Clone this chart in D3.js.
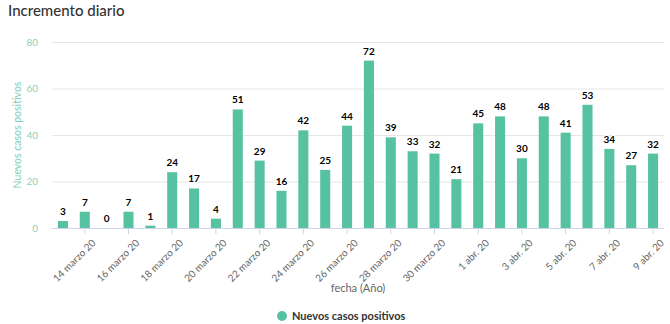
<!DOCTYPE html>
<html>
<head>
<meta charset="utf-8">
<script src="https://cdn.jsdelivr.net/npm/d3@7"></script>
<style>
  html, body { margin: 0; padding: 0; background: #fff; }
  svg { display: block; font-family: Lato, "Open Sans", sans-serif; }
</style>
</head>
<body>
<svg id="chart" width="670" height="324"></svg>
<script>
// Daily new positive cases, 13 March – 9 April 2020
const dates = [
  "13 marzo 20", "14 marzo 20", "15 marzo 20", "16 marzo 20", "17 marzo 20",
  "18 marzo 20", "19 marzo 20", "20 marzo 20", "21 marzo 20", "22 marzo 20",
  "23 marzo 20", "24 marzo 20", "25 marzo 20", "26 marzo 20", "27 marzo 20",
  "28 marzo 20", "29 marzo 20", "30 marzo 20", "31 marzo 20", "1 abr. 20",
  "2 abr. 20", "3 abr. 20", "4 abr. 20", "5 abr. 20", "6 abr. 20",
  "7 abr. 20", "8 abr. 20", "9 abr. 20"
];
const newCases = [3, 7, 0, 7, 1, 24, 17, 4, 51, 29, 16, 42, 25, 44, 72, 39, 33, 32, 21, 45, 48, 30, 48, 41, 53, 34, 27, 32];
const yTicks = [0, 20, 40, 60, 80];
const seriesName = "Nuevos casos positivos";

const svg = d3.select("#chart");
const plot = { left: 52, right: 664, top: 42, bottom: 228 };
const barColor = "#57c2a1";

const x = d3.scaleBand().domain(dates).range([plot.left, plot.right]).paddingInner(0.54).paddingOuter(0.27);
const y = d3.scaleLinear().domain([0, 80]).range([plot.bottom, plot.top]);

// Title
svg.append("text").attr("x", 8).attr("y", 16)
  .attr("font-size", 15).attr("font-weight", 500).attr("fill", "#333")
  .text("Incremento diario");

// Horizontal grid lines and y labels
const yAxis = d3.axisLeft(y).tickValues(yTicks).tickSize(-(plot.right - plot.left)).tickPadding(14);
const gy = svg.append("g").attr("transform", `translate(${plot.left},0)`).call(yAxis);
gy.select(".domain").remove();
gy.selectAll(".tick line").attr("stroke", "#e6e6e6");
gy.selectAll(".tick text").attr("fill", "#8fd0bb").attr("font-size", 10)
  .attr("font-family", "Lato, 'Open Sans', sans-serif");

// Y axis title
svg.append("text")
  .attr("transform", `translate(21,${(plot.top + plot.bottom) / 2}) rotate(-90)`)
  .attr("text-anchor", "middle").attr("font-size", 10.5).attr("fill", "#7fcfb4")
  .text(seriesName);

// Bars
svg.append("g").selectAll("rect").data(newCases).join("rect")
  .attr("x", (d, i) => x(dates[i]))
  .attr("y", d => y(d))
  .attr("width", x.bandwidth())
  .attr("height", d => y(0) - y(d))
  .attr("fill", barColor);

// Value labels above bars
svg.append("g").selectAll("text").data(newCases).join("text")
  .attr("x", (d, i) => x(dates[i]) + x.bandwidth() / 2)
  .attr("y", d => y(d) - 6)
  .attr("text-anchor", "middle")
  .attr("font-size", 10).attr("font-weight", 700).attr("fill", "#000")
  .attr("stroke", "#fff").attr("stroke-width", 2).attr("paint-order", "stroke")
  .text(d => d);

// X axis: every other date labelled
const labelled = dates.filter((d, i) => i % 2 === 1);
const xAxis = d3.axisBottom(x).tickValues(labelled).tickSize(6).tickPadding(4);
const gx = svg.append("g").attr("transform", `translate(0,${plot.bottom})`).call(xAxis);
gx.select(".domain").attr("stroke", "#ccd6eb").attr("d", `M${plot.left},0.5H${plot.right}`);
gx.selectAll(".tick line").attr("stroke", "#ccd6eb");
gx.selectAll(".tick text")
  .attr("font-size", 10).attr("fill", "#666")
  .attr("font-family", "Lato, 'Open Sans', sans-serif")
  .attr("text-anchor", "end")
  .attr("dy", "0.35em")
  .attr("transform", "translate(2,6) rotate(-45)");

// X axis title
svg.append("text").attr("x", (plot.left + plot.right) / 2).attr("y", 292)
  .attr("text-anchor", "middle").attr("font-size", 11).attr("fill", "#666")
  .text("fecha (Año)");

// Legend
const legend = svg.append("g").attr("transform", "translate(282,316)");
legend.append("circle").attr("r", 5).attr("fill", barColor);
legend.append("text").attr("x", 10).attr("y", 4)
  .attr("font-size", 11).attr("font-weight", 700).attr("fill", "#333")
  .text(seriesName);
</script>
</body>
</html>
